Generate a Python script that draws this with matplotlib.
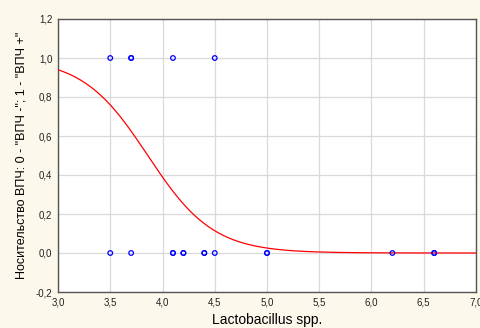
import numpy as np
import matplotlib
matplotlib.use("Agg")
import matplotlib.pyplot as plt
from matplotlib.ticker import FuncFormatter, MultipleLocator

# Observed data
x_pos = [3.5, 3.7, 3.7, 4.1, 4.5]
y_pos = [1, 1, 1, 1, 1]
x_neg = [3.5, 3.7, 4.1, 4.1, 4.2, 4.2, 4.4, 4.4, 4.5, 5.0, 5.0, 6.2, 6.6, 6.6]
y_neg = [0] * len(x_neg)

# Fitted logistic model coefficients
intercept = 12.35
slope = -3.2

plt.rcParams['font.family'] = ['Liberation Sans', 'DejaVu Sans']

fig = plt.figure(figsize=(4.81, 3.28), dpi=100, facecolor='#fdf8ec')
ax = fig.add_axes([58/481, 1-292/328, (476-58)/481, (292-19)/328])
ax.set_facecolor('white')

xs = np.linspace(3.0, 7.0, 400)
ax.plot(xs, 1/(1+np.exp(-(intercept + slope*xs))), color='red', lw=0.9, zorder=3)

ax.scatter(x_pos, y_pos, s=11, facecolors='none', edgecolors='blue', linewidths=0.9, zorder=4, clip_on=False)
ax.scatter(x_neg, y_neg, s=11, facecolors='none', edgecolors='blue', linewidths=0.9, zorder=4, clip_on=False)

ax.set_xlim(3.0, 7.0)
ax.set_ylim(-0.2, 1.2)
ax.xaxis.set_major_locator(MultipleLocator(0.5))
ax.yaxis.set_major_locator(MultipleLocator(0.2))
fmt = FuncFormatter(lambda v, p: f"{v:.1f}".replace('.', ',').replace('-0,0', '0,0'))
ax.xaxis.set_major_formatter(fmt)
ax.yaxis.set_major_formatter(fmt)
ax.grid(True, color='#d9d9d9', lw=0.9)
ax.set_axisbelow(True)
for s in ax.spines.values():
    s.set_color('#555555')
    s.set_linewidth(1.0)
ax.tick_params(axis='both', labelsize=7, length=0, pad=4, colors='#333333')
ax.tick_params(axis='both', labelcolor='#222222')

ax.set_xlabel('Lactobacillus spp.', fontsize=10, labelpad=4)
ax.set_ylabel('Носительство ВПЧ: 0 - "ВПЧ -"; 1 - "ВПЧ +"', fontsize=9, labelpad=6)

fig.savefig('out.png', dpi=100, facecolor=fig.get_facecolor())
